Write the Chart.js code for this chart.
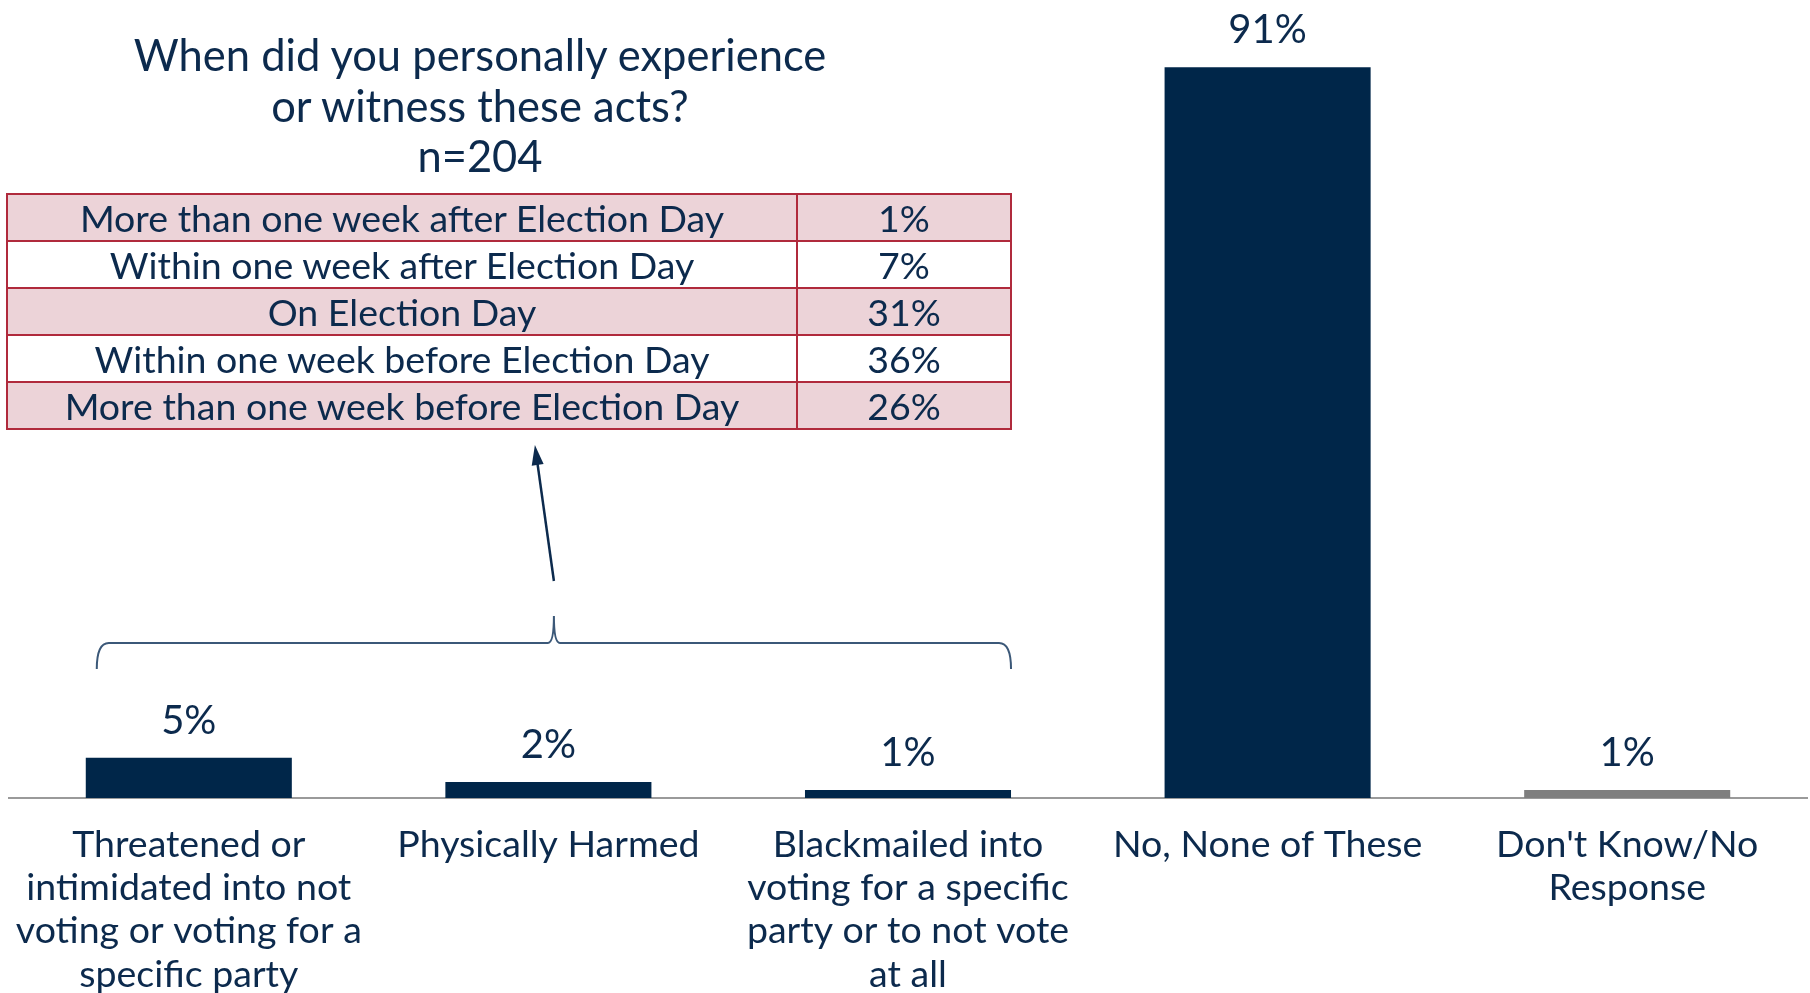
<!DOCTYPE html>
<html>
<head>
<meta charset="utf-8">
<script src="https://cdn.jsdelivr.net/npm/chart.js@4"></script>
<style>
  body { margin: 0; background: #fff; overflow: hidden; }
  #wrap { position: relative; width: 1810px; height: 993px; }
  #title {
    position: absolute; left: 0; top: 29px; width: 960px;
    text-align: center; font: 43.5px Lato, sans-serif; line-height: 50.5px; color: #0c2a4d;
  }
  #timing {
    position: absolute; left: 6px; top: 193px; width: 1006px;
    border-collapse: collapse; font: 37.5px Lato, sans-serif; color: #0c2a4d;
  }
  #timing td {
    border: 2.5px solid #b02a3c; height: 45px; padding: 0;
    text-align: center; line-height: 45px;
  }
  #timing td.pct { width: 212px; }
  #timing tr:nth-child(odd) { background: #ecd3d8; }
</style>
</head>
<body>
<div id="wrap">
  <canvas id="acts" width="1810" height="993"></canvas>
  <div id="title"></div>
  <table id="timing"></table>
</div>
<script>
const categories = [
  ["Threatened or", "intimidated into not", "voting or voting for a", "specific party"],
  "Physically Harmed",
  ["Blackmailed into", "voting for a specific", "party or to not vote", "at all"],
  "No, None of These",
  ["Don't Know/No", "Response"],
];
const values = [5, 2, 1, 91, 1];
const barColors = ["#002649", "#002649", "#002649", "#002649", "#7f7f7f"];

const titleLines = ["When did you personally experience", "or witness these acts?", "n=204"];
const timingLabels = [
  "More than one week after Election Day",
  "Within one week after Election Day",
  "On Election Day",
  "Within one week before Election Day",
  "More than one week before Election Day",
];
const timingValues = [1, 7, 31, 36, 26];

const navy = "#0c2a4d";

document.getElementById("title").innerHTML = titleLines.join("<br>");
const table = document.getElementById("timing");
timingLabels.forEach((label, i) => {
  const row = table.insertRow();
  row.insertCell().textContent = label;
  const cell = row.insertCell();
  cell.className = "pct";
  cell.textContent = timingValues[i] + "%";
});

// value labels above each bar
const valueLabels = {
  id: "valueLabels",
  afterDatasetsDraw(chart) {
    const ctx = chart.ctx;
    const meta = chart.getDatasetMeta(0);
    ctx.save();
    ctx.font = "40px Lato, sans-serif";
    ctx.fillStyle = navy;
    ctx.textAlign = "center";
    ctx.textBaseline = "middle";
    meta.data.forEach((bar, i) => {
      ctx.fillText(values[i] + "%", bar.x, bar.y - 37);
    });
    ctx.restore();
  },
};

// brace over the first three bars, with an arrow up to the table
const braceArrow = {
  id: "braceArrow",
  afterDraw(chart) {
    const ctx = chart.ctx;
    const bars = chart.getDatasetMeta(0).data;
    const left = bars[0].x - bars[0].width / 2 + 11;
    const right = bars[2].x + bars[2].width / 2;
    const mid = (left + right) / 2;
    const bottom = chart.chartArea.bottom;
    const yEnd = bottom - 129, yLine = bottom - 155, yTip = bottom - 182;

    ctx.save();
    ctx.strokeStyle = "#3b5878";
    ctx.lineWidth = 2;
    ctx.beginPath();
    ctx.moveTo(left, yEnd);
    ctx.quadraticCurveTo(left, yLine, left + 12, yLine);
    ctx.lineTo(mid - 6, yLine);
    ctx.quadraticCurveTo(mid, yLine, mid, yTip);
    ctx.quadraticCurveTo(mid, yLine, mid + 6, yLine);
    ctx.lineTo(right - 12, yLine);
    ctx.quadraticCurveTo(right, yLine, right, yEnd);
    ctx.stroke();

    // arrow
    const x0 = mid, y0 = bottom - 217, x1 = mid - 19, y1 = 445;
    const ang = Math.atan2(y1 - y0, x1 - x0);
    ctx.strokeStyle = navy;
    ctx.fillStyle = navy;
    ctx.lineWidth = 2.5;
    ctx.beginPath();
    ctx.moveTo(x0, y0);
    ctx.lineTo(x1 - 14 * Math.cos(ang), y1 - 14 * Math.sin(ang));
    ctx.stroke();
    ctx.beginPath();
    ctx.moveTo(x1, y1);
    ctx.lineTo(x1 - 20 * Math.cos(ang) + 6 * Math.sin(ang), y1 - 20 * Math.sin(ang) - 6 * Math.cos(ang));
    ctx.lineTo(x1 - 20 * Math.cos(ang) - 6 * Math.sin(ang), y1 - 20 * Math.sin(ang) + 6 * Math.cos(ang));
    ctx.closePath();
    ctx.fill();
    ctx.restore();
  },
};

new Chart(document.getElementById("acts"), {
  type: "bar",
  data: {
    labels: categories,
    datasets: [
      {
        data: values,
        backgroundColor: barColors,
        categoryPercentage: 1,
        barPercentage: 0.573,
      },
    ],
  },
  options: {
    responsive: false,
    animation: false,
    layout: { padding: { left: 9, right: 3, top: 3, bottom: 0 } },
    plugins: {
      legend: { display: false },
      tooltip: { enabled: false },
    },
    scales: {
      x: {
        grid: { display: false, drawTicks: false },
        border: { display: true, color: "#9a9a9a", width: 2 },
        ticks: {
          color: navy,
          font: { family: "Lato, sans-serif", size: 37.5, lineHeight: 1.155 },
          padding: 25,
          maxRotation: 0,
          autoSkip: false,
        },
        afterFit(axis) {
          axis.height = 195;
          axis.paddingLeft = 0;
          axis.paddingRight = 0;
        },
      },
      y: {
        display: false,
        min: 0,
        max: 99,
      },
    },
  },
  plugins: [valueLabels, braceArrow],
});
</script>
</body>
</html>
